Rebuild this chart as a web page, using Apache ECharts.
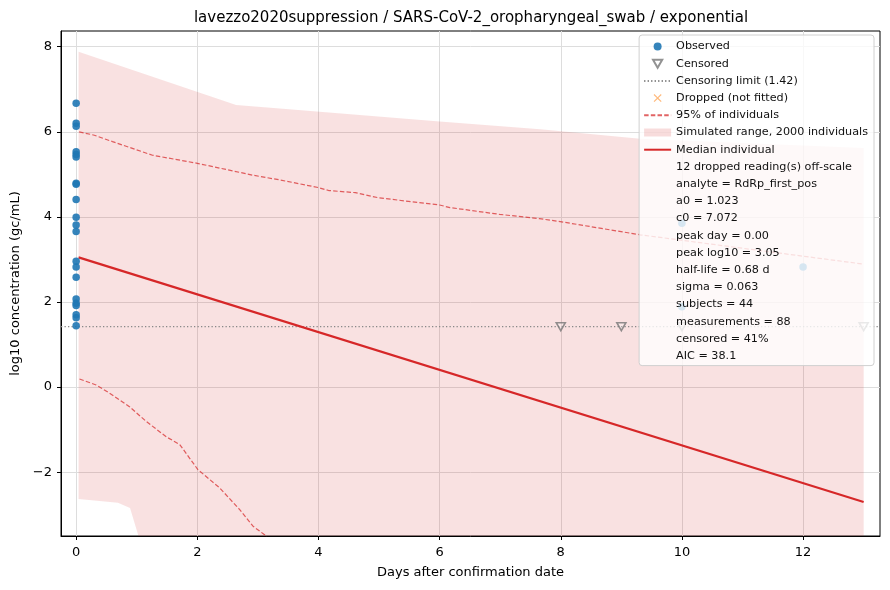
<!DOCTYPE html>
<html>
<head>
<meta charset="utf-8">
<script src="https://cdn.jsdelivr.net/npm/echarts@6/dist/echarts.min.js"></script>
<style>
  html, body { margin: 0; padding: 0; background: #fff; }
  #chart { width: 890px; height: 590px; }
</style>
</head>
<body>
<div id="chart"></div>
<script>
// values
const titleText = "lavezzo2020suppression / SARS-CoV-2_oropharyngeal_swab / exponential";
const xTicks = [0, 2, 4, 6, 8, 10, 12];
const yTicks = [-2, 0, 2, 4, 6, 8];
const censorLimit = 1.42;

const observedX = [0, 0, 0, 0, 0, 0, 0, 0, 0, 0, 0, 0, 0, 0, 0, 0, 0, 0, 0, 0, 0, 10, 12, 10];
const observedY = [6.67, 6.20, 6.13, 5.53, 5.47, 5.41, 4.79, 4.77, 4.41, 3.99, 3.81, 3.66,
  2.96, 2.82, 2.58, 2.07, 1.97, 1.92, 1.70, 1.63, 1.44, 3.85, 2.82, 1.89];
const censoredX = [8, 9, 10, 13];

const bandX = [0.04, 2.64, 3.36, 6.0, 7.66, 9.31, 13.0];
const bandUpper = [7.88, 6.63, 6.55, 6.24, 6.06, 5.84, 5.62];
const bandLowX = [0.04, 0.69, 0.89, 1.05, 1.6, 3.0, 13.0];
const bandLower = [-2.63, -2.72, -2.84, -3.6, -4.6, -6.0, -8.0];

const upperX = [0.05, 0.3, 0.6, 1.26, 2.0, 2.92, 3.36, 4.0, 4.17, 4.61, 4.99, 6.0, 6.17, 6.99, 7.65, 7.99, 9.31, 13.0];
const upperY = [6.0, 5.92, 5.77, 5.45, 5.26, 4.98, 4.87, 4.69, 4.62, 4.57, 4.45, 4.28, 4.22, 4.06, 3.96, 3.89, 3.58, 2.89];
const lowerX = [0.055, 0.33, 0.55, 0.88, 1.16, 1.49, 1.71, 2.01, 2.37, 2.70, 2.92, 3.11, 3.5];
const lowerY = [0.19, 0.05, -0.14, -0.46, -0.81, -1.17, -1.35, -1.94, -2.37, -2.88, -3.27, -3.47, -4.2];

const medianX = [0.04, 13.0];
const medianY = [3.05, -2.70];

const statLines = [
  "12 dropped reading(s) off-scale",
  "analyte = RdRp_first_pos",
  "a0 = 1.023",
  "c0 = 7.072",
  "peak day = 0.00",
  "peak log10 = 3.05",
  "half-life = 0.68 d",
  "sigma = 0.063",
  "subjects = 44",
  "measurements = 88",
  "censored = 41%",
  "AIC = 38.1"
];

const xMin = -0.25, xMax = 13.27, yMin = -3.5, yMax = 8.37;
const font = "DejaVu Sans";
const zip = (xs, ys) => xs.map((x, i) => [x, ys[i]]);
// line series draw a marker in their legend icon; make it invisible
const noMarker = { color: "rgba(0,0,0,0)", borderColor: "rgba(0,0,0,0)", borderWidth: 0, opacity: 0 };

const chart = echarts.init(document.getElementById("chart"));

const seriesList = [
  {
    name: "Simulated range, 2000 individuals",
    type: "custom",
    z: 1,
    silent: true,
    data: [[bandX[0], bandUpper[0]]],
    itemStyle: { color: "rgba(214,39,40,0.14)" },
    renderItem: function (params, api) {
      const pts = [];
      bandX.forEach((x, i) => pts.push(api.coord([x, bandUpper[i]])));
      for (let i = bandLowX.length - 1; i >= 0; i--) pts.push(api.coord([bandLowX[i], bandLower[i]]));
      const cs = params.coordSys;
      return {
        type: "polygon",
        shape: { points: pts },
        style: { fill: "rgba(214,39,40,0.14)" },
        clipPath: { type: "rect", shape: { x: cs.x, y: cs.y, width: cs.width, height: cs.height } }
      };
    }
  },
  {
    name: "Censoring limit (1.42)",
    type: "line",
    z: 2,
    symbol: "none",
    data: [[xMin, censorLimit], [xMax, censorLimit]],
    itemStyle: noMarker,
    lineStyle: { color: "#888", width: 1.3, type: [1.3, 2.2] }
  },
  {
    name: "95% of individuals",
    type: "line",
    z: 3,
    symbol: "none",
    data: zip(upperX, upperY),
    itemStyle: noMarker,
    lineStyle: { color: "rgba(214,39,40,0.72)", width: 1.2, type: [4.5, 2.2] }
  },
  {
    name: "95% of individuals",
    type: "line",
    z: 3,
    symbol: "none",
    data: zip(lowerX, lowerY),
    itemStyle: noMarker,
    lineStyle: { color: "rgba(214,39,40,0.72)", width: 1.2, type: [4.5, 2.2] }
  },
  {
    name: "Median individual",
    type: "line",
    z: 4,
    symbol: "none",
    data: zip(medianX, medianY),
    itemStyle: noMarker,
    lineStyle: { color: "#d62728", width: 2.2 }
  },
  {
    name: "Censored",
    type: "scatter",
    z: 5,
    symbol: "path://M0,0L10,0L5,8.7Z",
    symbolKeepAspect: true,
    symbolSize: 9,
    data: censoredX.map(x => [x, censorLimit]),
    itemStyle: { color: "rgba(255,255,255,0.3)", borderColor: "#777", borderWidth: 1.6 }
  },
  {
    name: "Observed",
    type: "scatter",
    z: 6,
    symbol: "circle",
    symbolSize: 7.5,
    data: zip(observedX, observedY),
    itemStyle: { color: "#1f77b4", opacity: 0.9 }
  },
  {
    name: "Dropped (not fitted)",
    type: "scatter",
    z: 6,
    symbol: "path://M1,0L5,4L9,0L10,1L6,5L10,9L9,10L5,6L1,10L0,9L4,5L0,1Z",
    symbolKeepAspect: true,
    symbolSize: 7,
    data: [],
    itemStyle: { color: "#ff7f0e", opacity: 0.55 }
  }
];

statLines.forEach(t => seriesList.push({ name: t, type: "line", data: [], symbol: "none" }));

const legendData = [
  { name: "Observed" },
  { name: "Censored" },
  { name: "Censoring limit (1.42)" },
  { name: "Dropped (not fitted)" },
  { name: "95% of individuals" },
  { name: "Simulated range, 2000 individuals", icon: "rect", itemStyle: { color: "rgba(214,39,40,0.16)" } },
  { name: "Median individual" }
].concat(statLines.map(t => ({ name: t, icon: "none" })));

const option = {
  animation: false,
  backgroundColor: "#fff",
  textStyle: { fontFamily: font },
  title: {
    text: titleText,
    left: 466,
    textAlign: "center",
    top: 6,
    textStyle: { fontFamily: font, fontSize: 15, fontWeight: "normal", color: "#000" }
  },
  grid: {
    left: 61, right: 10, top: 31, bottom: 54,
    show: true, borderColor: "#000", borderWidth: 1, backgroundColor: "transparent"
  },
  legend: {
    orient: "vertical",
    right: 16,
    top: 35,
    z: 20,
    data: legendData,
    selectedMode: false,
    itemWidth: 27,
    itemHeight: 8,
    itemGap: 4.2,
    padding: [5, 6, 3, 4],
    backgroundColor: "rgba(255,255,255,0.8)",
    borderColor: "#d0d0d0",
    borderWidth: 1,
    borderRadius: 3,
    textStyle: { fontFamily: font, fontSize: 11.2, lineHeight: 13, color: "#111" }
  },
  xAxis: {
    type: "value",
    min: xMin,
    max: xMax,
    name: "Days after confirmation date",
    nameLocation: "middle",
    nameGap: 30,
    nameTextStyle: { fontFamily: font, fontSize: 13, color: "#000" },
    axisLine: { show: true, onZero: false, lineStyle: { color: "#000" } },
    axisTick: { show: true, length: 4, customValues: xTicks, lineStyle: { color: "#000" } },
    axisLabel: { customValues: xTicks, margin: 10, fontFamily: font, fontSize: 13, color: "#000" },
    splitLine: { show: true, lineStyle: { color: "#ddd", width: 1 } }
  },
  yAxis: {
    type: "value",
    min: yMin,
    max: yMax,
    name: "log10 concentration (gc/mL)",
    nameLocation: "middle",
    nameGap: 37,
    nameTextStyle: { fontFamily: font, fontSize: 13, color: "#000" },
    axisLine: { show: true, onZero: false, lineStyle: { color: "#000" } },
    axisTick: { show: true, length: 4, customValues: yTicks, lineStyle: { color: "#000" } },
    axisLabel: {
      customValues: yTicks, margin: 9, fontFamily: font, fontSize: 13, color: "#000",
      formatter: v => String(v).replace("-", "\u2212")
    },
    splitLine: { show: true, lineStyle: { color: "#ddd", width: 1 } }
  },
  series: seriesList
};

chart.setOption(option);
</script>
</body>
</html>
